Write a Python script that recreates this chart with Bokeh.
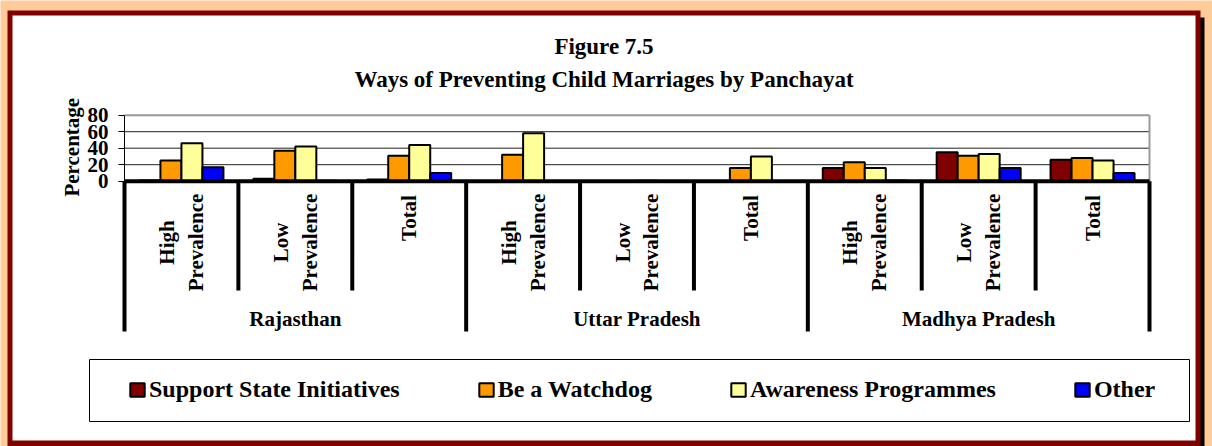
import numpy as np
from bokeh.plotting import figure
from bokeh.models import (Range1d, FixedTicker, LinearAxis, BoxAnnotation, Label,
                          Legend, LegendItem)
from bokeh.core.properties import value
from bokeh.embed import file_html
from bokeh.resources import INLINE

# ---------------- data ----------------
groups = ["Rajasthan", "Uttar Pradesh", "Madhya Pradesh"]
subgroups = ["High\nPrevalence", "Low\nPrevalence", "Total"]
series_names = ["Support State Initiatives", "Be a Watchdog",
                "Awareness Programmes", "Other"]
support = [1, 3, 2, 0, 0, 0, 16, 35, 26]
watchdog = [25, 37, 31, 32, 0, 16, 23, 31, 28]
awareness = [46, 42, 44, 58, 0.5, 30, 16, 33, 25]
other = [17, 0.5, 10, 0, 0, 0, 1, 16, 10]
y_ticks = [0, 20, 40, 60, 80]
title_lines = ["Figure 7.5", "Ways of Preventing Child Marriages by Panchayat"]
y_label = "Percentage"

# ---------------- styles / layout ----------------
colors = ["#800000", "#FF9900", "#FFFF99", "#0000FF"]
FONT = "Liberation Serif"
W, H = 1212, 446
X_ZERO_PX, PPX = 124.0, 1025.0 / 9            # px of x=0, px per category
Y_ZERO_PX, PPY = 180.7, 66.0 / 80             # px of y=0, px per percent


def X(px):
    return (px - X_ZERO_PX) / PPX


def Y(py):
    return (Y_ZERO_PX - py) / PPY


n_cat = len(groups) * len(subgroups)
p = figure(width=W, height=H,
           x_range=Range1d(X(0), X(W)), y_range=Range1d(Y(H), Y(0)),
           x_axis_type=None, y_axis_type=None,
           output_backend="svg", toolbar_location=None,
           min_border=0, min_border_left=0, min_border_right=0,
           min_border_top=0, min_border_bottom=0,
           background_fill_color="#FFCC99", border_fill_color="#FFCC99",
           outline_line_color=None)
p.xgrid.visible = False
p.ygrid.visible = False


# ---- decorative page frame (underlay) ----
def box(l, r, t, b, color, line_color=None, line_width=0):
    return BoxAnnotation(left=X(l), right=X(r), top=Y(t), bottom=Y(b),
                         fill_color=color, fill_alpha=1,
                         line_color=line_color, line_width=line_width,
                         line_alpha=1 if line_color else 0, level="underlay")


for b in [box(1199, 1204, 17, H, "black"),
          box(7, 1200, 10, H, "#800000"),
          box(12, 1195, 15, 440, "white"),
          box(89, 1189, 359, 421, "white", "black", 1)]:
    p.add_layout(b)

# ---- y axis drawn at x = 0 ----
ax = LinearAxis(fixed_location=0)
ax.ticker = FixedTicker(ticks=y_ticks)
ax.bounds = (min(y_ticks), max(y_ticks))
ax.axis_line_color = "black"
ax.axis_line_width = 1
ax.major_tick_out = 6
ax.major_tick_in = 0
ax.minor_tick_out = 0
ax.minor_tick_in = 0
ax.major_tick_line_color = "black"
ax.major_label_text_font = FONT
ax.major_label_text_font_style = "bold"
ax.major_label_text_font_size = "21px"
ax.major_label_text_color = "black"
ax.major_label_standoff = 10
p.add_layout(ax, "left")

# ---- gridlines from the tick values ----
inner = [t for t in y_ticks if 0 < t < max(y_ticks)]
p.segment(x0=[0] * len(inner), y0=inner, x1=[n_cat] * len(inner), y1=inner,
          line_color="#222222", line_width=1)
p.segment(x0=[0, n_cat], y0=[max(y_ticks), 0], x1=[n_cat, n_cat],
          y1=[max(y_ticks), max(y_ticks)], line_color="#999999", line_width=2)

# ---- bars ----
bar_px = 21
bw = bar_px / PPX
xc = np.arange(n_cat) + 0.5
series = [support, watchdog, awareness, other]
offsets = (np.arange(len(series)) - (len(series) - 1) / 2) * bw
renderers = []
for k, vals in enumerate(series):
    r = p.vbar(x=xc + offsets[k], top=vals, bottom=0, width=bw,
               fill_color=colors[k], line_color="black", line_width=2)
    renderers.append(r)

# baseline
p.segment(x0=[0], y0=[0], x1=[n_cat], y1=[0], line_color="black", line_width=4)

# category separators
nsub = len(subgroups)
sub_sep = [i for i in range(1, n_cat) if i % nsub]
grp_sep = [i for i in range(0, n_cat + 1, nsub)]
p.segment(x0=sub_sep, y0=[0] * len(sub_sep), x1=sub_sep,
          y1=[Y(290)] * len(sub_sep), line_color="black", line_width=4)
p.segment(x0=grp_sep, y0=[0] * len(grp_sep), x1=grp_sep,
          y1=[Y(331)] * len(grp_sep), line_color="black", line_width=4)

# sub-category labels (rotated)
sub_labels = subgroups * len(groups)
label_top_px = 193
char_px = 9.8
sub_y = [Y(label_top_px + 0.5 * char_px * max(len(s) for s in t.split("\n")))
         for t in sub_labels]
p.text(x=xc, y=sub_y, text=sub_labels, angle=np.pi / 2,
       text_align="center", text_baseline="middle",
       text_font=value(FONT), text_font_style="bold",
       text_font_size="21px", text_color="black", text_line_height=1.2)

# group labels
gx = np.arange(len(groups)) * nsub + nsub / 2
p.text(x=gx, y=[Y(318)] * len(groups), text=groups,
       text_align="center", text_baseline="middle",
       text_font=value(FONT), text_font_style="bold",
       text_font_size="21px", text_color="black")

# ---- titles & y label ----
for txt, base in zip(title_lines, [45.5, 78.5]):
    p.add_layout(Label(x=X(603.5), y=Y(base), text=txt,
                       text_align="center", text_baseline="alphabetic",
                       text_font=FONT, text_font_style="bold",
                       text_font_size="23px", text_color="black"))
p.add_layout(Label(x=X(71), y=Y(146.7), text=y_label, angle=np.pi / 2,
                   text_align="center", text_baseline="alphabetic",
                   text_font=FONT, text_font_style="bold",
                   text_font_size="21px", text_color="black"))

# ---- legend ----
legend = Legend(items=[LegendItem(label=n, renderers=[r])
                       for n, r in zip(series_names, renderers)],
                orientation="horizontal", location=(128, 43),
                padding=0, margin=0, spacing=77,
                glyph_width=18, glyph_height=17, label_standoff=3,
                border_line_alpha=0, background_fill_alpha=0,
                label_text_font=FONT, label_text_font_style="bold",
                label_text_font_size="24px", label_text_color="black")
p.add_layout(legend)

open("out.html", "w").write(file_html(p, INLINE))
